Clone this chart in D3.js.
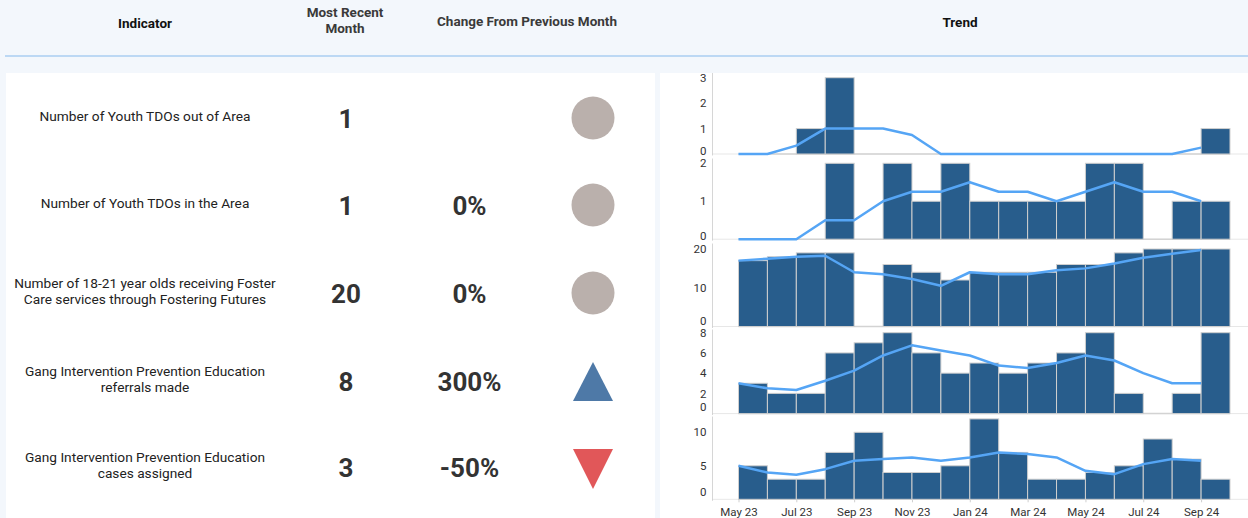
<!DOCTYPE html>
<html>
<head>
<meta charset="utf-8">
<script src="https://cdn.jsdelivr.net/npm/d3@7/dist/d3.min.js"></script>
<style>
  html, body { margin: 0; padding: 0; background: #f3f7fc; }
  svg { display: block; font-family: Roboto, "Noto Sans", sans-serif; }
</style>
</head>
<body>
<svg id="chart" width="1248" height="518"></svg>
<script>
// ---- Data ----------------------------------------------------------
const months = ["May 23", "Jun 23", "Jul 23", "Aug 23", "Sep 23", "Oct 23", "Nov 23", "Dec 23",
                "Jan 24", "Feb 24", "Mar 24", "Apr 24", "May 24", "Jun 24", "Jul 24", "Aug 24", "Sep 24"];

const indicators = [
  ["Number of Youth TDOs out of Area"],
  ["Number of Youth TDOs in the Area"],
  ["Number of 18-21 year olds receiving Foster", "Care services through Fostering Futures"],
  ["Gang Intervention Prevention Education", "referrals made"],
  ["Gang Intervention Prevention Education", "cases assigned"]
];
const mostRecent = [1, 1, 20, 8, 3];
const changeLabels = ["", "0%", "0%", "300%", "-50%"];
const changeDirection = ["flat", "flat", "flat", "up", "down"];

// Monthly counts (bars) and rolling average (line) per indicator
const tdoOutCounts   = [0, 0, 1, 3, 0, 0, 0, 0, 0, 0, 0, 0, 0, 0, 0, 0, 1];
const tdoOutAvg      = [0, 0, 0.33, 1, 1, 1, 0.75, 0, 0, 0, 0, 0, 0, 0, 0, 0, 0.25];
const tdoInCounts    = [0, 0, 0, 2, 0, 2, 1, 2, 1, 1, 1, 1, 2, 2, 0, 1, 1];
const tdoInAvg       = [0, 0, 0, 0.5, 0.5, 1, 1.25, 1.25, 1.5, 1.25, 1.25, 1, 1.25, 1.5, 1.25, 1.25, 1];
const fosterCounts   = [17, 18, 19, 19, 0, 16, 14, 12, 14, 14, 14, 16, 16, 19, 20, 20, 20];
const fosterAvg      = [17, 17.5, 18, 18.25, 14, 13.5, 12.25, 10.5, 14, 13.5, 13.5, 14.5, 15, 16.25, 17.75, 18.75, 19.75];
const referralCounts = [3, 2, 2, 6, 7, 8, 6, 4, 5, 4, 5, 6, 8, 2, 0, 2, 8];
const referralAvg    = [3, 2.5, 2.33, 3.25, 4.25, 5.75, 6.75, 6.25, 5.75, 4.75, 4.5, 5, 5.75, 5.25, 4, 3, 3];
const casesCounts    = [5, 3, 3, 7, 10, 4, 4, 5, 12, 7, 3, 3, 4, 5, 9, 6, 3];
const casesAvg       = [5, 4, 3.67, 4.5, 5.75, 6, 6.25, 5.75, 6.25, 7, 6.75, 6.25, 4.25, 3.75, 5.25, 6, 5.75];

const trendCounts = [tdoOutCounts, tdoInCounts, fosterCounts, referralCounts, casesCounts];
const trendAvg    = [tdoOutAvg, tdoInAvg, fosterAvg, referralAvg, casesAvg];
const yTickValues = [[0, 1, 2, 3], [0, 1, 2], [0, 10, 20], [0, 2, 4, 6, 8], [0, 5, 10]];

// ---- Layout --------------------------------------------------------
const W = 1248, H = 518;
const rowCenters = [118, 205, 293, 381, 467];
const paneTop  = [73, 158.5, 243.5, 329.5, 416.5];
const paneBase = [154, 239.2, 326.5, 413.6, 499.3];
const paneMaxY = [77.7, 163.3, 249, 332.7, 418.9];
const zeroLift = [2.5, 2.5, 5, 6, 6.5];

const colors = {
  bar: "#285d8c", barStroke: "#cfcfcf", line: "#55a5f5",
  flat: "#bab0ac", up: "#4e79a7", down: "#e15759",
  text: "#222", value: "#333"
};

const svg = d3.select("#chart");

// Background, header rule and white panels
svg.append("rect").attr("width", W).attr("height", H).attr("fill", "#f3f7fc");
svg.append("rect").attr("x", 5).attr("y", 55).attr("width", W - 5).attr("height", 2).attr("fill", "#bcd8f4");
svg.append("rect").attr("x", 6).attr("y", 73).attr("width", 649).attr("height", H - 73).attr("fill", "#fff");
svg.append("rect").attr("x", 660).attr("y", 73).attr("width", W - 660).attr("height", H - 73).attr("fill", "#fff");

// Column headers
const header = svg.append("g").attr("font-weight", 700).attr("font-size", 13.5).attr("text-anchor", "middle");
header.append("text").attr("x", 145).attr("y", 27.5).attr("fill", "#111").text("Indicator");
header.append("text").attr("x", 345).attr("y", 16.5).attr("fill", "#3a3a3a").text("Most Recent");
header.append("text").attr("x", 345).attr("y", 32.5).attr("fill", "#3a3a3a").text("Month");
header.append("text").attr("x", 527).attr("y", 25.5).attr("fill", "#3a3a3a").text("Change From Previous Month");
header.append("text").attr("x", 960).attr("y", 26.5).attr("fill", "#111").text("Trend");

// Indicator rows
const rows = svg.append("g").selectAll("g").data(indicators).join("g");
rows.each(function (lines, i) {
  const g = d3.select(this);
  const cy = rowCenters[i];
  const lh = 16.5;
  const y0 = cy + 4.5 - (lines.length - 1) * lh / 2 - (lines.length > 1 ? 1.5 : 2);
  g.selectAll("text.ind").data(lines).join("text")
    .attr("class", "ind")
    .attr("x", 145).attr("y", (d, k) => y0 + k * lh)
    .attr("text-anchor", "middle").attr("font-size", 13.7).attr("fill", colors.text)
    .text(d => d);
  g.append("text")
    .attr("x", 346).attr("y", cy + 9.5)
    .attr("text-anchor", "middle").attr("font-size", 26).attr("font-weight", 700)
    .attr("fill", colors.value).text(mostRecent[i]);
  g.append("text")
    .attr("x", 469.5).attr("y", cy + 9.5)
    .attr("text-anchor", "middle").attr("font-size", 26).attr("font-weight", 700)
    .attr("fill", colors.value).text(changeLabels[i]);
  const dir = changeDirection[i];
  const sx = 593;
  if (dir === "flat") {
    g.append("circle").attr("cx", sx).attr("cy", cy).attr("r", 21.5).attr("fill", colors.flat);
  } else if (dir === "up") {
    g.append("path").attr("d", `M${sx - 20},${cy + 20}L${sx + 20},${cy + 20}L${sx},${cy - 19}Z`).attr("fill", colors.up);
  } else {
    g.append("path").attr("d", `M${sx - 20},${cy - 18}L${sx + 20},${cy - 18}L${sx},${cy + 22}Z`).attr("fill", colors.down);
  }
});

// ---- Trend panes ---------------------------------------------------
const x = d3.scaleLinear().domain([0, months.length]).range([738.5, 1230]);
const axisX = 712.5;

trendCounts.forEach((counts, p) => {
  const g = svg.append("g");
  const y = d3.scaleLinear().domain([0, d3.max(counts)]).range([paneBase[p], paneMaxY[p]]);

  // pane axis line
  g.append("line").attr("x1", axisX).attr("x2", axisX)
    .attr("y1", paneTop[p]).attr("y2", paneBase[p] + 1.5)
    .attr("stroke", "#d6d6d6").attr("stroke-width", 1);

  // zero line: dotted outside the bars, solid under them
  g.append("line").attr("x1", axisX).attr("x2", W)
    .attr("y1", paneBase[p]).attr("y2", paneBase[p])
    .attr("stroke", "#cfcfcf").attr("stroke-dasharray", "1,1");
  g.append("line").attr("x1", x(0)).attr("x2", x(months.length))
    .attr("y1", paneBase[p]).attr("y2", paneBase[p])
    .attr("stroke", "#d3d3d3").attr("stroke-width", 1.5);

  // bars
  g.append("g").selectAll("rect").data(counts).join("rect")
    .attr("x", (d, i) => x(i)).attr("width", (d, i) => x(i + 1) - x(i))
    .attr("y", d => y(d)).attr("height", d => y(0) - y(d))
    .attr("fill", colors.bar).attr("stroke", d => d > 0 ? colors.barStroke : "none").attr("stroke-width", 1);

  // rolling average line
  const line = d3.line().x((d, i) => x(i)).y(d => y(d));
  g.append("path").datum(trendAvg[p]).attr("d", line)
    .attr("fill", "none").attr("stroke", colors.line).attr("stroke-width", 2.5)
    .attr("stroke-linejoin", "round");

  // y axis ticks
  const ax = g.append("g").attr("transform", `translate(${axisX},0)`)
    .call(d3.axisLeft(y).tickValues(yTickValues[p]).tickSize(0).tickPadding(6).tickFormat(d3.format("d")));
  ax.select(".domain").remove();
  ax.selectAll("text").attr("font-size", 11.5).attr("fill", "#333").attr("font-family", "Roboto, sans-serif");
  ax.selectAll(".tick").filter(d => d === 0)
    .attr("transform", `translate(0,${paneBase[p] - zeroLift[p]})`);
});

// x axis
const xAxis = svg.append("g").attr("transform", `translate(0,${paneBase[4]})`)
  .call(d3.axisBottom(x)
    .tickValues(d3.range(0, months.length, 2))
    .tickSize(3).tickPadding(6)
    .tickFormat(i => months[i]));
xAxis.select(".domain").remove();
xAxis.selectAll("line").attr("stroke", "#cfcfcf");
xAxis.selectAll("text").attr("font-size", 11.5).attr("fill", "#333").attr("font-family", "Roboto, sans-serif");
</script>
</body>
</html>
